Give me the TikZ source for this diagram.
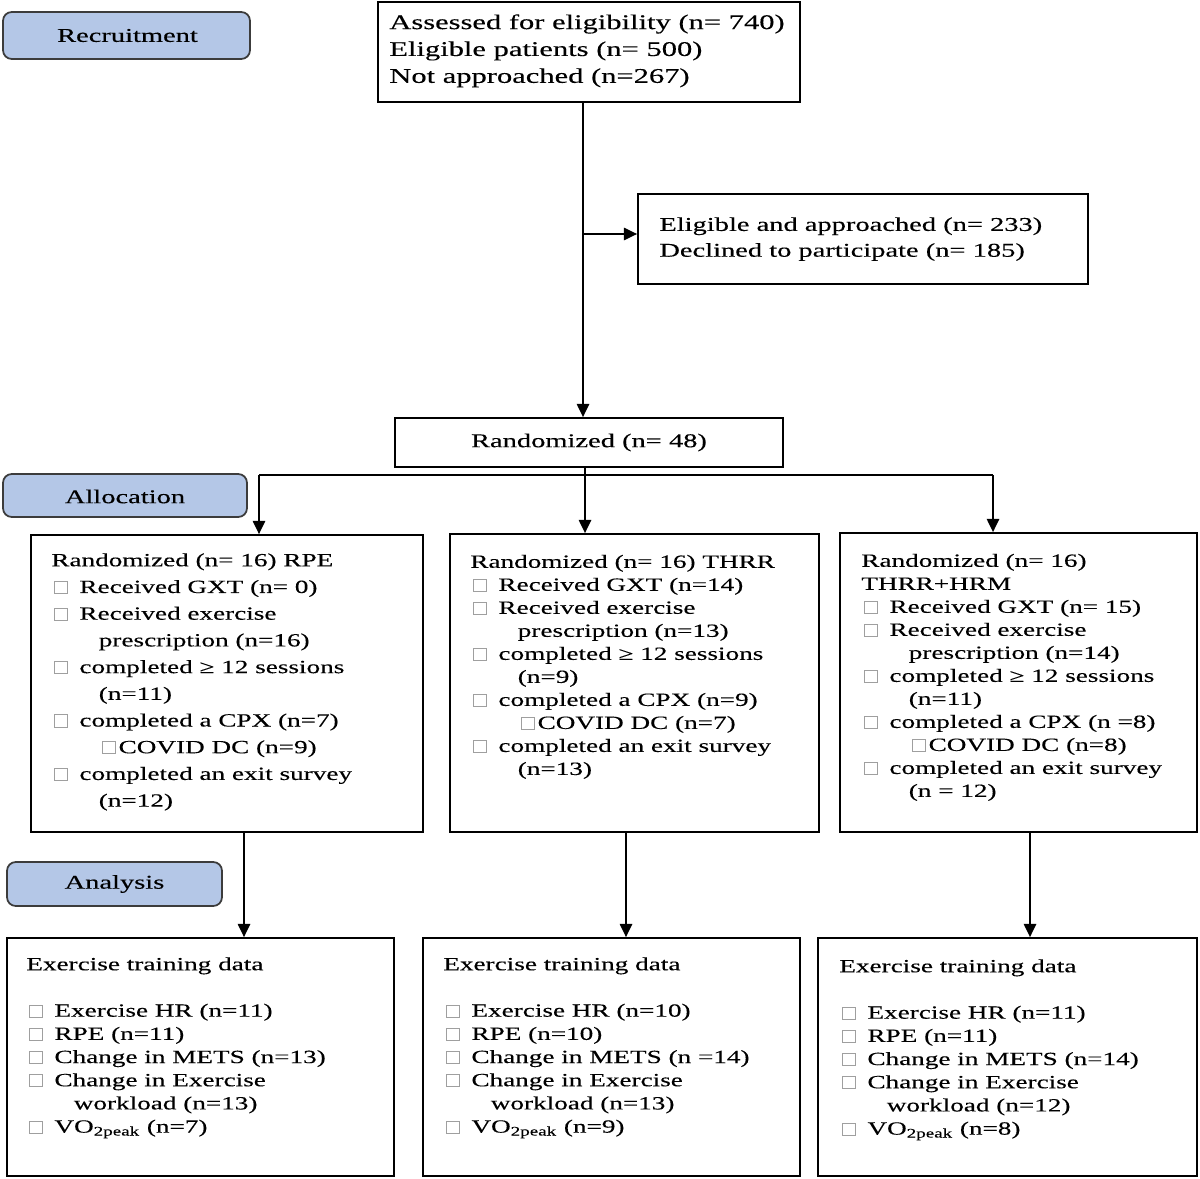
\documentclass[tikz,border=0pt]{standalone}
\usepackage{fontspec}
\setmainfont{Liberation Serif}[FakeStretch=1.46,FakeBold=0.25]
\usetikzlibrary{arrows.meta,fit,calc}
\definecolor{labfill}{HTML}{B4C7E7}
\definecolor{labdraw}{HTML}{3C3C3C}
\newcommand{\sqb}{\textcolor{gray!75}{\setlength{\fboxsep}{0pt}\setlength{\fboxrule}{0.55pt}\fbox{\rule{0pt}{6.3pt}\rule{6.6pt}{0pt}}}}
\newcommand{\itm}{\hspace*{1.7pt}\sqb\hspace{6.6pt}}
\newcommand{\cnt}{\hspace*{27pt}}
\newcommand{\cov}{\hspace*{29pt}\sqb\hspace{1.6pt}}
\begin{document}
\begin{tikzpicture}[x=0.02cm,y=-0.02cm,
  box/.style={draw=black,line width=1pt,inner sep=0pt},
  lab/.style={draw=labdraw,fill=labfill,line width=1pt,rounded corners=5pt,inner sep=0pt},
  labt/.style={inner sep=0pt,font=\fontsize{11.1}{13}\selectfont},
  txt/.style={anchor=north west,inner sep=0pt,align=left},
  grp/.style={txt,font=\fontsize{10.6}{13.1}\selectfont},
  arr/.style={line width=1pt,-{Triangle[length=7.5pt,width=7pt]}},
  ln/.style={line width=1pt}]
\useasboundingbox (0,0) rectangle (1200,1179);
% boxes
\node[box,fit={(378,2)(800,102)}] (top) {};
\node[box,fit={(638,194)(1088,284)}] (elig) {};
\node[box,fit={(395,418)(783,467)}] (rand) {};
\node[box,fit={(31,535)(423,832)}] (rpe) {};
\node[box,fit={(450,534)(819,832)}] (thrr) {};
\node[box,fit={(840,533)(1197,832)}] (hrm) {};
\node[box,fit={(7,938)(394,1176)}] (an1) {};
\node[box,fit={(423,938)(800,1176)}] (an2) {};
\node[box,fit={(818,938)(1197,1176)}] (an3) {};
% labels
\node[lab,fit={(3,12)(250,59)}] (recr) {};
\node[lab,fit={(3,474)(247,517)}] (alloc) {};
\node[lab,fit={(7,862)(222,906)}] (anal) {};
\node[labt] (recrt) at ($(recr.center)+(1,0)$) {Recruitment};
\node[labt] (alloct) at ($(alloc.center)+(0,1)$) {Allocation};
\node[labt] (analt) at ($(anal.center)+(0,0)$) {Analysis};
\node[labt] (randt) at ($(rand.center)+(0,0)$) {Randomized (n= 48)};
% texts
\node[txt,font=\fontsize{11.9}{15.3}\selectfont] (topt) at (389,14) {Assessed for eligibility (n= 740)\\Eligible patients (n= 500)\\Not approached (n=267)};
\node[txt,font=\fontsize{11.1}{14.7}\selectfont] (eligt) at (659,217) {Eligible and approached (n= 233)\\Declined to participate (n= 185)};
\node[grp,font=\fontsize{10.6}{15.2}\selectfont] (rpet) at (51,553) {Randomized (n= 16) RPE\\
\itm Received GXT (n= 0)\\
\itm Received exercise\\
\cnt prescription (n=16)\\
\itm completed ≥ 12 sessions\\
\cnt (n=11)\\
\itm completed a CPX (n=7)\\
\cov COVID DC (n=9)\\
\itm completed an exit survey\\
\cnt (n=12)};
\node[grp] (thrrt) at (470,554.5) {Randomized (n= 16) THRR\\
\itm Received GXT (n=14)\\
\itm Received exercise\\
\cnt prescription (n=13)\\
\itm completed ≥ 12 sessions\\
\cnt (n=9)\\
\itm completed a CPX (n=9)\\
\cov COVID DC (n=7)\\
\itm completed an exit survey\\
\cnt (n=13)};
\node[grp] (hrmt) at (861,553.5) {Randomized (n= 16)\\
THRR+HRM\\
\itm Received GXT (n= 15)\\
\itm Received exercise\\
\cnt prescription (n=14)\\
\itm completed ≥ 12 sessions\\
\cnt (n=11)\\
\itm completed a CPX (n =8)\\
\cov COVID DC (n=8)\\
\itm completed an exit survey\\
\cnt (n = 12)};
\node[grp,font=\fontsize{10.6}{13.2}\selectfont] (an1t) at (26,957) {Exercise training data\\
\mbox{}\\
\itm Exercise HR (n=11)\\
\itm RPE (n=11)\\
\itm Change in METS (n=13)\\
\itm Change in Exercise\\
\cnt workload (n=13)\\
\itm VO\textsubscript{2peak} (n=7)};
\node[grp,font=\fontsize{10.6}{13.2}\selectfont] (an2t) at (443,957) {Exercise training data\\
\mbox{}\\
\itm Exercise HR (n=10)\\
\itm RPE (n=10)\\
\itm Change in METS (n =14)\\
\itm Change in Exercise\\
\cnt workload (n=13)\\
\itm VO\textsubscript{2peak} (n=9)};
\node[grp,font=\fontsize{10.6}{13.2}\selectfont] (an3t) at (839,959) {Exercise training data\\
\mbox{}\\
\itm Exercise HR (n=11)\\
\itm RPE (n=11)\\
\itm Change in METS (n=14)\\
\itm Change in Exercise\\
\cnt workload (n=12)\\
\itm VO\textsubscript{2peak} (n=8)};
% connectors
\coordinate (vx) at (583,0);
\draw[arr] (top.south -| vx) -- (rand.north -| vx);
\coordinate (br) at (583,234);
\draw[arr] (br) -- (br -| elig.west);
\coordinate (mx) at (585,0);
\draw[arr] (rand.south -| mx) -- (thrr.north -| mx);
\coordinate (hl) at (259,475);
\coordinate (hr) at (993,475);
\draw[ln] (hl) -- (hr);
\draw[arr] (hl) -- (hl |- rpe.north);
\draw[arr] (hr) -- (hr |- hrm.north);
\coordinate (a1) at (244,0);
\coordinate (a2) at (626,0);
\coordinate (a3) at (1030,0);
\draw[arr] (rpe.south -| a1) -- (an1.north -| a1);
\draw[arr] (thrr.south -| a2) -- (an2.north -| a2);
\draw[arr] (hrm.south -| a3) -- (an3.north -| a3);
\end{tikzpicture}
\end{document}
